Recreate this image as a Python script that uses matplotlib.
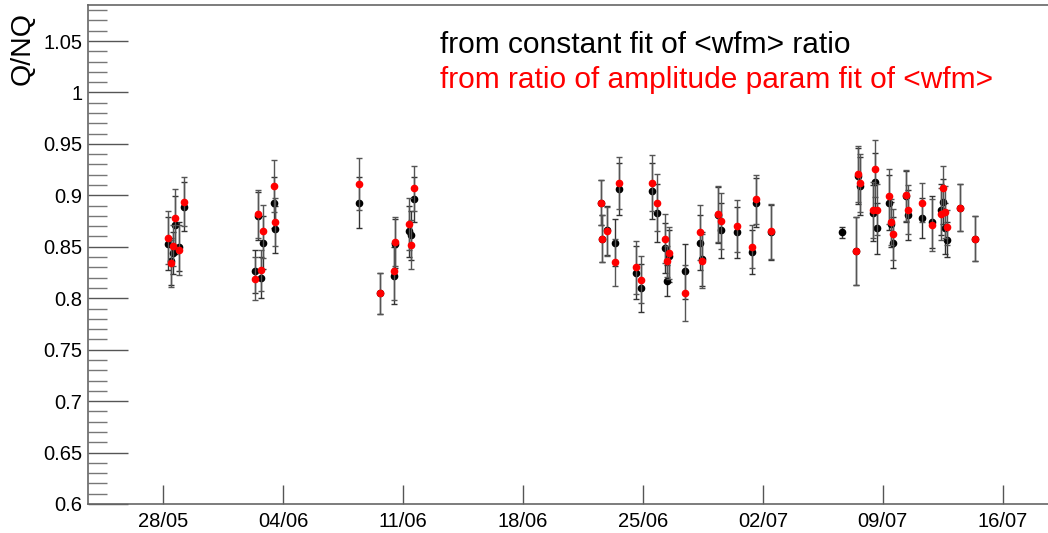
import numpy as np
import pandas as pd
import matplotlib
matplotlib.use("Agg")
import matplotlib.pyplot as plt
import matplotlib.dates as mdates
from matplotlib.ticker import MultipleLocator

plt.rcParams['font.family'] = ['Liberation Sans', 'DejaVu Sans']

# measurement times
times = pd.to_datetime([
    "2018-05-28 07:25", "2018-05-28 10:50", "2018-05-28 14:00", "2018-05-28 16:50",
    "2018-05-28 22:25", "2018-05-29 05:50",
    "2018-06-02 09:20", "2018-06-02 13:30", "2018-06-02 17:45", "2018-06-02 20:25",
    "2018-06-03 11:00", "2018-06-03 13:15",
    "2018-06-08 10:50", "2018-06-09 16:20", "2018-06-10 11:30", "2018-06-10 13:15",
    "2018-06-11 08:50", "2018-06-11 11:15", "2018-06-11 15:25",
    "2018-06-22 12:55", "2018-06-22 15:10", "2018-06-22 21:20", "2018-06-23 08:25",
    "2018-06-23 14:25", "2018-06-24 13:55", "2018-06-24 21:50", "2018-06-25 12:40",
    "2018-06-25 19:10", "2018-06-26 07:15", "2018-06-26 10:05", "2018-06-26 12:55",
    "2018-06-27 11:20", "2018-06-28 07:55", "2018-06-28 10:50", "2018-06-29 08:40",
    "2018-06-29 13:25", "2018-06-30 12:15", "2018-07-01 09:10", "2018-07-01 13:55",
    "2018-07-02 11:20",
    "2018-07-06 14:25", "2018-07-07 10:50", "2018-07-07 13:40", "2018-07-07 16:00",
    "2018-07-08 09:50", "2018-07-08 12:30", "2018-07-08 15:50", "2018-07-09 08:35",
    "2018-07-09 11:45", "2018-07-09 14:35", "2018-07-10 08:50", "2018-07-10 10:50",
    "2018-07-11 06:15", "2018-07-11 20:40", "2018-07-12 09:50", "2018-07-12 11:45",
    "2018-07-12 14:35", "2018-07-12 17:45", "2018-07-13 11:30", "2018-07-14 09:20",
])

# from constant fit of <wfm> ratio
q_const = [
    0.853, 0.836, 0.844, 0.871, 0.850, 0.889,
    0.826, 0.880, 0.820, 0.854, 0.893, 0.867,
    0.893, 0.805, 0.822, 0.853, 0.865, 0.861, 0.896,
    0.893, 0.858, 0.866, 0.854, 0.906, 0.825, 0.810, 0.904,
    0.883, 0.849, 0.817, 0.841, 0.826, 0.854, 0.838, 0.881,
    0.866, 0.864, 0.845, 0.893, 0.864,
    0.864, 0.846, 0.919, 0.909, 0.883, 0.913, 0.868, 0.893,
    0.872, 0.854, 0.899, 0.881, 0.878, 0.874, 0.886, 0.894,
    0.868, 0.857, 0.888, 0.858,
]

# from ratio of amplitude param fit of <wfm>
q_ampl = [
    0.859, 0.834, 0.851, 0.878, 0.847, 0.894,
    0.819, 0.882, 0.827, 0.865, 0.909, 0.874,
    0.911, 0.805, 0.826, 0.855, 0.872, 0.852, 0.907,
    0.893, 0.858, 0.865, 0.835, 0.912, 0.830, 0.818, 0.912,
    0.893, 0.858, 0.836, 0.844, 0.805, 0.864, 0.836, 0.882,
    0.875, 0.870, 0.850, 0.896, 0.865,
    np.nan, 0.846, 0.921, 0.912, 0.886, 0.926, 0.886, 0.899,
    0.874, 0.862, 0.900, 0.886, 0.893, 0.871, 0.882, 0.907,
    0.884, 0.869, 0.888, 0.858,
]

q_err = [
    0.026, 0.023, 0.020, 0.028, 0.024, 0.024,
    0.021, 0.023, 0.020, 0.026, 0.025, 0.023,
    0.025, 0.020, 0.028, 0.024, 0.025, 0.024, 0.022,
    0.022, 0.023, 0.024, 0.023, 0.025, 0.026, 0.023, 0.027,
    0.028, 0.024, 0.015, 0.025, 0.027, 0.027, 0.026, 0.027,
    0.027, 0.025, 0.021, 0.024, 0.027,
    0.005, 0.033, 0.027, 0.028, 0.027, 0.028, 0.025, 0.027,
    0.022, 0.025, 0.025, 0.024, 0.019, 0.025, 0.025, 0.022,
    0.025, 0.017, 0.023, 0.022,
]

tick_days = pd.date_range("2018-05-28", periods=8, freq="7D")

fig = plt.figure(figsize=(10.48, 5.33), dpi=100)
ax = fig.add_axes([88 / 1048, 1 - 504 / 533, (1049 - 88) / 1048, 499 / 533])

ax.errorbar(times, q_const, yerr=q_err, fmt='o', color='black', ms=4.5,
            ecolor='#333333', elinewidth=1, capsize=2, capthick=1, zorder=3)
ax.errorbar(times, q_ampl, yerr=q_err, fmt='o', color='red', ms=4.5,
            ecolor='#555555', elinewidth=1, capsize=2, capthick=1, zorder=4)

x0 = tick_days[0]
ax.set_xlim(x0 - pd.Timedelta(days=4.38), x0 + pd.Timedelta(days=51.7))
ax.set_ylim(0.6, 1.085)

ax.set_xticks(tick_days)
ax.xaxis.set_major_formatter(mdates.DateFormatter('%d/%m'))
ax.yaxis.set_major_locator(MultipleLocator(0.05))
ax.yaxis.set_minor_locator(MultipleLocator(0.01))
ax.yaxis.set_major_formatter(plt.FuncFormatter(lambda v, p: f"{v:g}"))

ax.tick_params(axis='y', which='major', direction='in', length=29, width=1,
               color='#555555', labelsize=14.5, pad=4)
ax.tick_params(axis='y', which='minor', direction='in', length=14, width=1,
               color='#777777')
ax.tick_params(axis='x', which='major', direction='in', length=14, width=1,
               color='#555555', labelsize=14.5, pad=6)

for s in ['left', 'bottom', 'top']:
    ax.spines[s].set_color('#666666')
    ax.spines[s].set_linewidth(1.2)
ax.spines['right'].set_visible(False)

fig.text(23 / 1048, 1 - 12 / 533, "Q/NQ", rotation=90, ha='center', va='top',
         fontsize=20.5)

fig.text(440 / 1048, 1 - 45 / 533, "from constant fit of <wfm> ratio",
         color='black', fontsize=21.5, ha='left', va='center')
fig.text(440 / 1048, 1 - 80 / 533, "from ratio of amplitude param fit of <wfm>",
         color='red', fontsize=21.5, ha='left', va='center')

fig.savefig("out.png", dpi=100)
